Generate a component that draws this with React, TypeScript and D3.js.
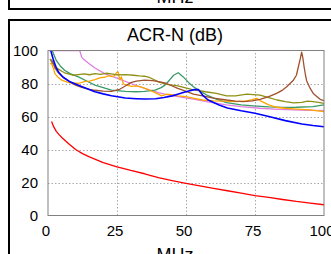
import React from "react";
import * as d3 from "d3";

const xTicks = [0, 25, 50, 75, 100];
const yTicks = [0, 20, 40, 60, 80, 100];
const title = "ACR-N (dB)";
const xLabel = "MHz";

const redData: [number, number][] = [[1.3,57],[2,54],[3,51],[4,49],[5,47.3],[7.5,43.5],[10,40],[12.5,37.5],[15,35.5],[20,32],[25,29.5],[30,27.3],[35,25.3],[40,23],[45,21.2],[50,19.5],[55,18],[60,16.5],[65,15],[70,13.5],[75,12],[80,11],[85,9.7],[90,8.5],[95,7.5],[100,6.5]];
const blueData: [number, number][] = [[1,100],[1.5,97],[2,94],[3,89.5],[4,86.5],[5.5,83.8],[8,81],[11,79],[14,77],[17,75],[20,73.7],[23,72.6],[28,71.2],[32,70.8],[35,70.6],[39,70.8],[42,71.5],[45,72.5],[47,73.5],[49,74.5],[51,75.5],[53,76.3],[54.5,76.3],[56,73],[58,70],[60,68.5],[62,67],[65,65.2],[70,63.5],[75,62],[80,60],[86,57.5],[92,55.5],[96,54.5],[100,53.8]];
const greenData: [number, number][] = [[1.3,101],[2,98],[3,94],[4.5,90.5],[6,88],[8,86],[11,84],[14,81.5],[17,79],[20,77.5],[23,76],[28,75.2],[32,75],[35,75.2],[38.8,76],[41,77.5],[42.4,79],[44,82],[45.5,85],[47.2,86.5],[49,84],[51,80.5],[52.7,78],[55,75.5],[57.5,73],[61,70.5],[64.7,68.4],[70,67],[74.4,66.4],[80,65.8],[85,65.5],[90,65.6],[96,66],[100,67]];
const orangeData: [number, number][] = [[0.7,92],[1.3,92],[2,89],[2.5,86],[3.5,84],[5,82],[7,80.8],[8.6,80.3],[11,80],[13.4,81.3],[15,81.5],[17,82.3],[19,83.5],[20.6,83.8],[22,84.8],[23,84.2],[24,84.6],[24.8,86.5],[25.4,87],[26,82.3],[26.6,84],[27.3,79.7],[28.5,79],[30.3,78.3],[32,78.5],[34.5,77.5],[36,76.5],[38.8,74.5],[41.2,72.5],[43,73.5],[44.8,73.2],[47,72.5],[50,72],[53,71],[56,70],[60,69.5],[64,69.3],[68,69],[72,69.5],[74,70.2],[75.6,71],[77,69.5],[80,67],[82.8,65.6],[86,65],[90,64.5],[95,64],[100,63]];
const pinkData: [number, number][] = [[0.5,100],[11.5,100],[12.2,96],[13,94.5],[14.6,92.4],[17,89.4],[20.7,85.8],[25.5,82.9],[30,80],[35,77],[40,74.5],[43,73.2],[47,72],[52.7,70.5],[58,68.8],[64.7,67],[70,66],[76.8,65],[82,64.5],[88.9,64],[95,63.7],[100,63.5]];
const brownData: [number, number][] = [[1.2,94.5],[2,92],[2.5,89.4],[3.5,87],[5,84.4],[7,82],[8.6,80.3],[10,79],[12.2,77.7],[15,76.5],[17,75.9],[20,75.4],[23,75.2],[26,76.5],[28,78.5],[30,80.5],[32,81.5],[35,82],[38,81.7],[41,80.8],[43,80],[45,78.5],[47,77],[49.6,75.5],[52.7,73.6],[56,72.5],[60,71.2],[64.7,70],[68,69.3],[70.7,69],[74,69.5],[76.8,70.4],[80,72],[82.8,74],[85,76],[86.5,78],[88.9,82],[90,85],[90.7,90],[91.4,95],[91.9,99],[92.3,96],[92.8,90],[93.3,85],[93.7,81.7],[95,77],[96.1,74],[97.5,72],[98.6,70.4],[100,69.6]];
const oliveData: [number, number][] = [[0.7,95],[1.3,93],[2,91.5],[2.5,90.4],[3.5,89],[5,87.4],[6,86.5],[7.4,85.8],[9,85],[11,85.4],[13,85.8],[15,85.3],[17,86],[19,85.5],[21,86.2],[23,85.8],[25,85.2],[28,85.4],[31,85],[33,84.6],[35,84.4],[37,83.5],[40,81],[43,79.5],[47,78.5],[52,76.5],[57,75],[61,74],[64.7,72.5],[68,72.5],[72,73.5],[76.8,73],[80,71.5],[83,70],[86,69],[89,68.3],[92,68.5],[94,69.3],[96,69],[98,68.5],[100,68]];

const series = [
  { data: redData, color: "#ff0000", w: 1.3 },
  { data: pinkData, color: "#e07ee0", w: 1.3 },
  { data: greenData, color: "#3a9a68", w: 1.3 },
  { data: orangeData, color: "#ffa500", w: 1.3 },
  { data: oliveData, color: "#8f8f14", w: 1.3 },
  { data: brownData, color: "#a0522d", w: 1.3 },
  { data: blueData, color: "#0000ff", w: 1.6 },
];

export default function App() {
  const W = 331, H = 254;
  const x = d3.scaleLinear().domain([0, 100]).range([48, 324]);
  const y = d3.scaleLinear().domain([0, 100]).range([215.5, 50.5]);
  const line = d3.line<[number, number]>().x(d => x(d[0])).y(d => y(d[1]));
  const font = "'Liberation Sans', Arial, sans-serif";
  return (
    <div style={{ position: "absolute", left: 0, top: 0 }}>
      <svg width={W} height={H} style={{ display: "block" }}>
        <rect x={0} y={0} width={W} height={H} fill="#fff" />
        <text x={175} y={3} fontSize={18} fontFamily={font} textAnchor="middle" fill="#000">{xLabel}</text>
        <rect x={9} y={-100} width={340} height={109} fill="none" stroke="#000" strokeWidth={2} />
        <rect x={9} y={20} width={340} height={300} fill="none" stroke="#000" strokeWidth={2} />
        <text x={175} y={41} fontSize={18} fontFamily={font} textAnchor="middle" fill="#000">{title}</text>
        <defs>
          <clipPath id="plotclip">
            <rect x={x(0)} y={y(100)} width={x(100) - x(0)} height={y(0) - y(100)} />
          </clipPath>
        </defs>
        {xTicks.slice(1, -1).map(t => (
          <line key={"gx" + t} x1={Math.round(x(t)) + 0.5} x2={Math.round(x(t)) + 0.5} y1={y(0)} y2={y(100)} stroke="#a8a8a8" strokeWidth={1} strokeDasharray="1.5,2" />
        ))}
        {yTicks.slice(1, -1).map(t => (
          <line key={"gy" + t} x1={x(0)} x2={x(100)} y1={Math.round(y(t)) + 0.5} y2={Math.round(y(t)) + 0.5} stroke="#a8a8a8" strokeWidth={1} strokeDasharray="1.5,2" />
        ))}
        <g clipPath="url(#plotclip)">
          {series.map((s, i) => (
            <path key={i} d={line(s.data) || ""} fill="none" stroke={s.color} strokeWidth={s.w} strokeLinejoin="round" />
          ))}
        </g>
        <rect x={x(0)} y={y(100)} width={x(100) - x(0)} height={y(0) - y(100)} fill="none" stroke="#808080" strokeWidth={1} />
        {yTicks.map(t => (
          <text key={"yl" + t} x={38} y={y(t) + 5.4} fontSize={15} fontFamily={font} textAnchor="end" fill="#000">{t}</text>
        ))}
        {xTicks.map(t => (
          <text key={"xl" + t} x={x(t) - 2} y={236} fontSize={15} fontFamily={font} textAnchor="middle" fill="#000">{t}</text>
        ))}
        <text x={175} y={261} fontSize={18} fontFamily={font} textAnchor="middle" fill="#000">{xLabel}</text>
      </svg>
    </div>
  );
}
